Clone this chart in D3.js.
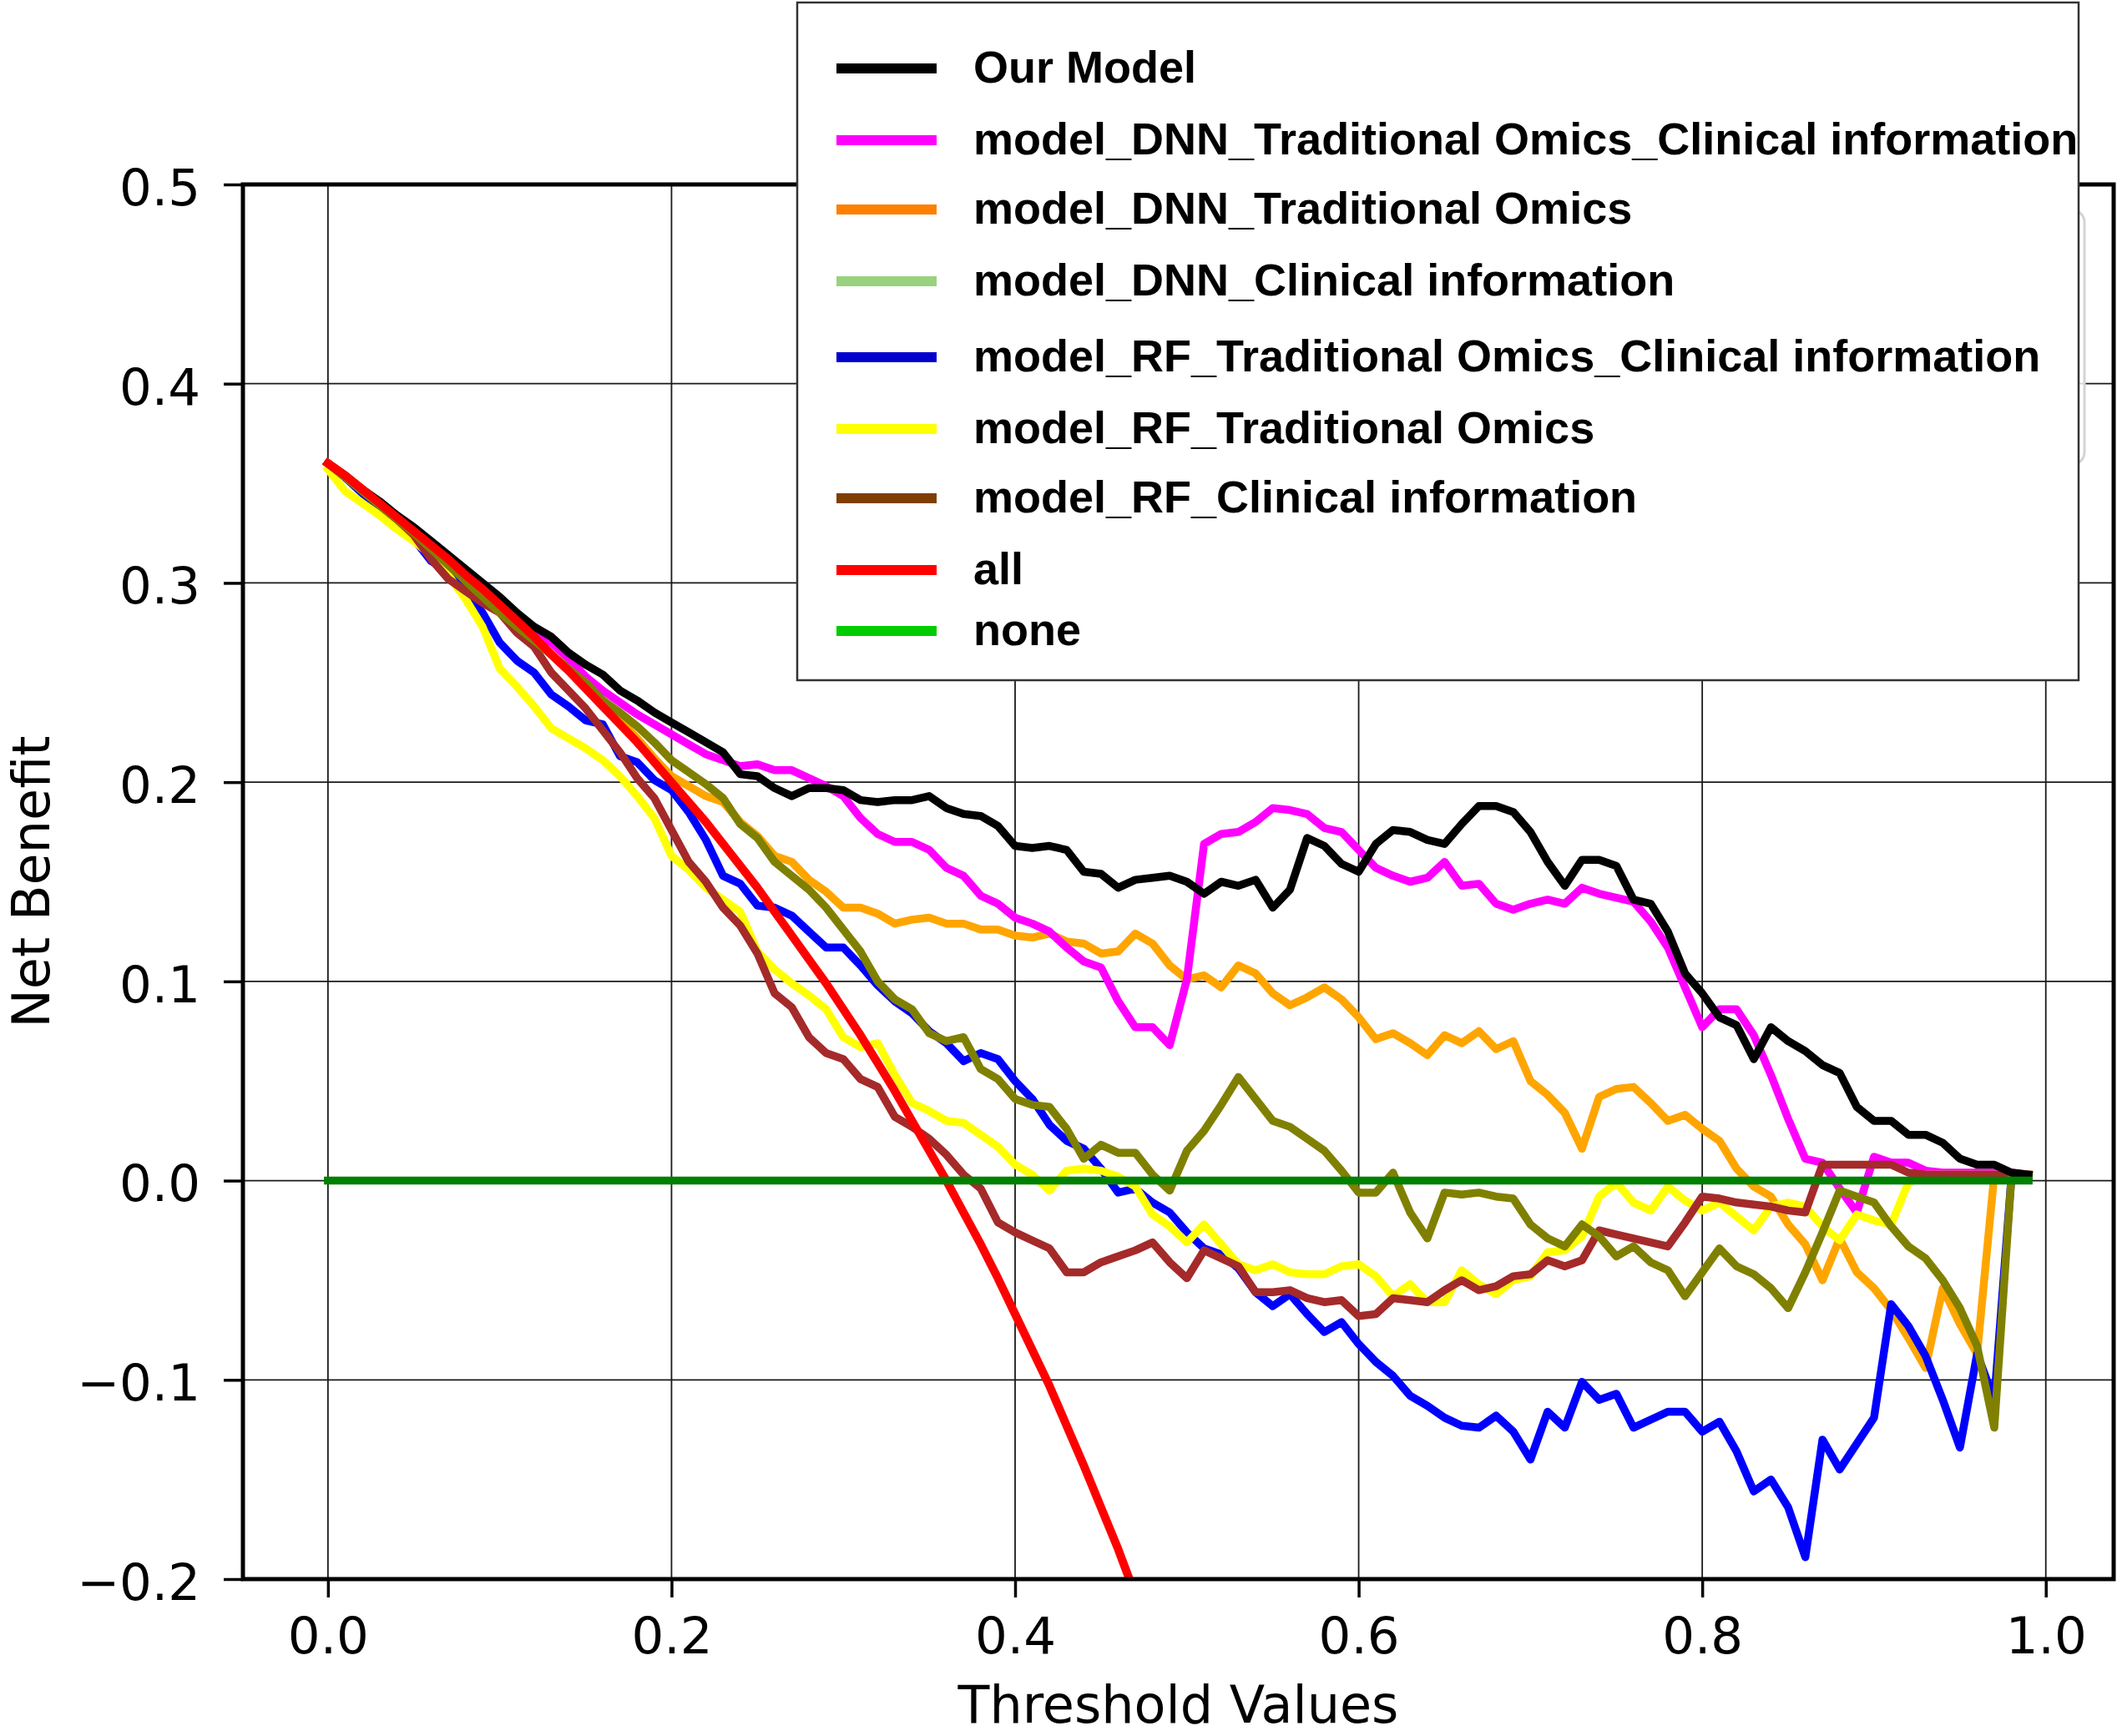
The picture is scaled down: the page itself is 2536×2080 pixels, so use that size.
<!DOCTYPE html>
<html><head><meta charset="utf-8">
<script src="https://cdn.jsdelivr.net/npm/d3@7"></script>
<style>html,body{margin:0;padding:0;background:#fff;} svg{display:block}</style>
</head><body>
<svg id="chart" width="2536" height="2080"></svg>
<script>
// ---------------- DATA ----------------
const thresholds = [0.00,0.01,0.02,0.03,0.04,0.05,0.06,0.07,0.08,0.09,
 0.10,0.11,0.12,0.13,0.14,0.15,0.16,0.17,0.18,0.19,
 0.20,0.21,0.22,0.23,0.24,0.25,0.26,0.27,0.28,0.29,
 0.30,0.31,0.32,0.33,0.34,0.35,0.36,0.37,0.38,0.39,
 0.40,0.41,0.42,0.43,0.44,0.45,0.46,0.47,0.48,0.49,
 0.50,0.51,0.52,0.53,0.54,0.55,0.56,0.57,0.58,0.59,
 0.60,0.61,0.62,0.63,0.64,0.65,0.66,0.67,0.68,0.69,
 0.70,0.71,0.72,0.73,0.74,0.75,0.76,0.77,0.78,0.79,
 0.80,0.81,0.82,0.83,0.84,0.85,0.86,0.87,0.88,0.89,
 0.90,0.91,0.92,0.93,0.94,0.95,0.96,0.97,0.98,0.99];

const ourModel = [0.360,0.354,0.347,0.341,0.334,0.328,0.321,0.314,0.307,0.300,
 0.293,0.285,0.278,0.273,0.265,0.259,0.254,0.246,0.241,0.235,
 0.230,0.225,0.220,0.215,0.204,0.203,0.197,0.193,0.197,0.197,
 0.196,0.191,0.190,0.191,0.191,0.193,0.187,0.184,0.183,0.178,
 0.168,0.167,0.168,0.166,0.155,0.154,0.147,0.151,0.152,0.153,
 0.150,0.144,0.150,0.148,0.151,0.137,0.146,0.172,0.168,0.159,
 0.155,0.169,0.176,0.175,0.171,0.169,0.179,0.188,0.188,0.185,
 0.175,0.160,0.148,0.161,0.161,0.158,0.141,0.139,0.125,0.104,
 0.094,0.082,0.078,0.061,0.077,0.070,0.065,0.058,0.054,0.037,
 0.030,0.030,0.023,0.023,0.019,0.011,0.008,0.008,0.004,0.003];

const dnnTOCI = [0.360,0.353,0.347,0.340,0.333,0.326,0.319,0.312,0.305,0.298,
 0.291,0.283,0.276,0.270,0.262,0.253,0.246,0.240,0.234,0.229,
 0.224,0.219,0.214,0.211,0.208,0.209,0.206,0.206,0.202,0.198,
 0.193,0.182,0.174,0.170,0.170,0.166,0.157,0.153,0.143,0.139,
 0.132,0.129,0.125,0.117,0.110,0.107,0.090,0.077,0.077,0.068,
 0.101,0.169,0.174,0.175,0.180,0.187,0.186,0.184,0.177,0.175,
 0.166,0.157,0.153,0.150,0.152,0.160,0.148,0.149,0.139,0.136,
 0.139,0.141,0.139,0.147,0.144,0.142,0.140,0.130,0.117,0.097,
 0.077,0.086,0.086,0.073,0.053,0.031,0.011,0.009,-0.004,-0.016,
 0.012,0.009,0.009,0.005,0.004,0.004,0.004,0.004,0.004,0.003];

const dnnTO = [0.360,0.353,0.347,0.340,0.333,0.326,0.319,0.312,0.305,0.297,
 0.289,0.281,0.273,0.265,0.257,0.249,0.240,0.231,0.222,0.212,
 0.203,0.198,0.193,0.190,0.180,0.173,0.163,0.160,0.151,0.145,
 0.137,0.137,0.134,0.129,0.131,0.132,0.129,0.129,0.126,0.126,
 0.123,0.122,0.124,0.120,0.119,0.114,0.115,0.124,0.119,0.108,
 0.101,0.103,0.097,0.108,0.104,0.094,0.088,0.092,0.097,0.091,
 0.082,0.071,0.074,0.069,0.063,0.073,0.069,0.075,0.066,0.070,
 0.050,0.043,0.034,0.016,0.042,0.046,0.047,0.039,0.030,0.033,
 0.026,0.020,0.006,-0.003,-0.008,-0.022,-0.032,-0.050,-0.029,-0.046,
 -0.054,-0.065,-0.079,-0.094,-0.054,-0.072,-0.087,0.003,0.003,0.003];

const dnnCI = [0.360,0.353,0.346,0.339,0.332,0.325,0.317,0.309,0.301,0.293,
 0.285,0.278,0.271,0.264,0.257,0.250,0.241,0.235,0.228,0.220,
 0.211,0.205,0.199,0.192,0.179,0.172,0.160,0.153,0.146,0.137,
 0.126,0.115,0.100,0.091,0.086,0.074,0.070,0.072,0.056,0.051,
 0.041,0.038,0.037,0.026,0.011,0.018,0.014,0.014,0.003,-0.005,
 0.015,0.025,0.038,0.052,0.041,0.030,0.027,0.021,0.015,0.005,
 -0.006,-0.006,0.004,-0.016,-0.029,-0.006,-0.007,-0.006,-0.008,-0.009,
 -0.022,-0.029,-0.033,-0.022,-0.028,-0.038,-0.033,-0.041,-0.045,-0.058,
 -0.046,-0.034,-0.043,-0.047,-0.054,-0.064,-0.046,-0.026,-0.005,-0.008,
 -0.011,-0.023,-0.033,-0.039,-0.050,-0.064,-0.083,-0.124,0.002,0.002];

const rfTOCI = [0.360,0.353,0.345,0.338,0.331,0.322,0.311,0.306,0.296,0.285,
 0.270,0.261,0.255,0.244,0.238,0.231,0.229,0.213,0.210,0.201,
 0.196,0.185,0.171,0.153,0.149,0.138,0.137,0.133,0.125,0.117,
 0.117,0.108,0.098,0.090,0.084,0.075,0.069,0.060,0.064,0.061,
 0.050,0.041,0.028,0.020,0.016,0.006,-0.006,-0.004,-0.011,-0.016,
 -0.026,-0.034,-0.037,-0.044,-0.056,-0.063,-0.057,-0.067,-0.076,-0.071,
 -0.082,-0.091,-0.098,-0.108,-0.113,-0.119,-0.123,-0.124,-0.118,-0.126,
 -0.140,-0.116,-0.124,-0.101,-0.110,-0.107,-0.124,-0.120,-0.116,-0.116,
 -0.126,-0.121,-0.136,-0.156,-0.150,-0.164,-0.189,-0.130,-0.145,-0.132,
 -0.119,-0.062,-0.073,-0.088,-0.110,-0.134,-0.087,-0.110,0.002,0.002];

const rfTO = [0.357,0.346,0.340,0.334,0.327,0.321,0.314,0.304,0.292,0.278,
 0.257,0.248,0.238,0.227,0.222,0.217,0.211,0.203,0.193,0.182,
 0.163,0.156,0.147,0.141,0.135,0.115,0.106,0.099,0.093,0.086,
 0.072,0.067,0.069,0.053,0.039,0.035,0.030,0.029,0.023,0.017,
 0.008,0.003,-0.005,0.005,0.006,0.005,0.002,-0.003,-0.017,-0.023,
 -0.031,-0.022,-0.032,-0.042,-0.045,-0.042,-0.046,-0.047,-0.047,-0.043,
 -0.042,-0.048,-0.058,-0.052,-0.061,-0.061,-0.045,-0.052,-0.057,-0.050,
 -0.048,-0.036,-0.035,-0.028,-0.008,-0.001,-0.011,-0.015,-0.003,-0.010,
 -0.015,-0.011,-0.018,-0.025,-0.013,-0.011,-0.013,-0.023,-0.030,-0.017,
 -0.020,-0.022,-0.001,0.003,0.003,0.003,0.003,0.003,0.003,0.003];

const rfCI = [0.360,0.353,0.346,0.339,0.332,0.324,0.312,0.302,0.296,0.290,
 0.285,0.275,0.268,0.255,0.246,0.237,0.226,0.215,0.202,0.192,
 0.176,0.160,0.150,0.137,0.128,0.114,0.094,0.087,0.072,0.064,
 0.061,0.051,0.047,0.032,0.027,0.021,0.013,0.003,-0.004,-0.021,
 -0.026,-0.030,-0.034,-0.046,-0.046,-0.041,-0.038,-0.035,-0.031,-0.041,
 -0.049,-0.035,-0.039,-0.043,-0.056,-0.056,-0.055,-0.059,-0.061,-0.060,
 -0.068,-0.067,-0.059,-0.060,-0.061,-0.055,-0.050,-0.055,-0.053,-0.048,
 -0.047,-0.040,-0.043,-0.040,-0.025,-0.027,-0.029,-0.031,-0.033,-0.021,
 -0.008,-0.009,-0.011,-0.012,-0.013,-0.015,-0.016,0.008,0.008,0.008,
 0.008,0.008,0.004,0.003,0.003,0.003,0.003,0.003,0.003,0.003];

// "treat all" curve (continues below the axis; only the visible part is listed)
const treatAll = [0.360,0.354,0.347,0.340,0.333,0.326,0.319,0.312,0.304,0.297,
 0.289,0.281,0.273,0.264,0.256,0.247,0.238,0.229,0.220,0.210,
 0.200,0.190,0.180,0.169,0.158,0.147,0.135,0.123,0.111,0.099,
 0.086,0.073,0.059,0.045,0.030,0.015,0.000,-0.016,-0.032,-0.049,
 -0.067,-0.085,-0.103,-0.123,-0.143,-0.164,-0.185,-0.208,-0.231];

const treatNone = [0,0,0,0,0,0,0,0,0,0, 0,0,0,0,0,0,0,0,0,0,
 0,0,0,0,0,0,0,0,0,0, 0,0,0,0,0,0,0,0,0,0,
 0,0,0,0,0,0,0,0,0,0, 0,0,0,0,0,0,0,0,0,0,
 0,0,0,0,0,0,0,0,0,0, 0,0,0,0,0,0,0,0,0,0,
 0,0,0,0,0,0,0,0,0,0, 0,0,0,0,0,0,0,0,0,0];

const xTicks = [0.0, 0.2, 0.4, 0.6, 0.8, 1.0];
const yTicks = [-0.2, -0.1, 0.0, 0.1, 0.2, 0.3, 0.4, 0.5];

const legendLabels = ["Our Model","model_DNN_Traditional Omics_Clinical information",
 "model_DNN_Traditional Omics","model_DNN_Clinical information",
 "model_RF_Traditional Omics_Clinical information","model_RF_Traditional Omics",
 "model_RF_Clinical information","all","none"];
const legendColors = ["#000000","#ff00ff","#ff7f00","#99d27f","#0000cc","#ffff00","#7f3f00","#ff0000","#00cc00"];

// ---------------- LAYOUT ----------------
const L = 291, R = 2532, T = 221, B = 1892;
const x = d3.scaleLinear().domain([-0.0495, 1.0395]).range([L, R]);
const y = d3.scaleLinear().domain([-0.2, 0.5]).range([B, T]);
const svg = d3.select('#chart');
const FONT = "'DejaVu Sans', sans-serif";

svg.append('rect').attr('width',2536).attr('height',2080).attr('fill','#fff');
svg.append('defs').append('clipPath').attr('id','plotClip')
  .append('rect').attr('x',L).attr('y',T).attr('width',R-L).attr('height',B-T);

// grid
const grid = svg.append('g').attr('stroke','#1a1a1a').attr('stroke-width',1.8);
grid.selectAll('.gx').data(xTicks).join('line')
  .attr('x1',d=>x(d)).attr('x2',d=>x(d)).attr('y1',T).attr('y2',B);
grid.selectAll('.gy').data(yTicks).join('line')
  .attr('y1',d=>y(d)).attr('y2',d=>y(d)).attr('x1',L).attr('x2',R);

// series (draw order chosen to match overlaps)
const series = [
  {values: dnnTO,    color:'#ffa500', w:9.5},
  {values: dnnTOCI,  color:'#ff00ff', w:9.5},
  {values: rfTOCI,   color:'#0000ff', w:9.5},
  {values: rfTO,     color:'#ffff00', w:9.5},
  {values: rfCI,     color:'#a52a2a', w:9.5},
  {values: dnnCI,    color:'#808000', w:9.5},
  {values: ourModel, color:'#000000', w:9.5},
  {values: treatAll, color:'#ff0000', w:10},
  {values: treatNone,color:'#008000', w:9.5}
];
const line = d3.line().x(d=>x(d[0])).y(d=>y(d[1]));
const plot = svg.append('g').attr('clip-path','url(#plotClip)');
series.forEach(s=>{
  const pts = s.values.map((v,i)=>[thresholds[i], v]);
  plot.append('path').attr('d', line(pts)).attr('fill','none')
    .attr('stroke', s.color).attr('stroke-width', s.w)
    .attr('stroke-linejoin','round').attr('stroke-linecap','square');
});

// spines
svg.append('rect').attr('x',L).attr('y',T).attr('width',R-L).attr('height',B-T)
  .attr('fill','none').attr('stroke','#000').attr('stroke-width',5);

// axes
const fmt = d3.format('.1f');
const xAxis = d3.axisBottom(x).tickValues(xTicks).tickFormat(fmt).tickSize(22).tickPadding(24);
svg.append('g').attr('transform',`translate(0,${B})`).call(xAxis)
  .attr('font-family',FONT).attr('font-size',61)
  .call(g=>g.select('.domain').remove())
  .call(g=>g.selectAll('line').attr('stroke','#000').attr('stroke-width',3.5))
  .call(g=>g.selectAll('text').attr('fill','#000'));
const yAxis = d3.axisLeft(y).tickValues(yTicks).tickFormat(fmt).tickSize(23).tickPadding(28);
svg.append('g').attr('transform',`translate(${L},0)`).call(yAxis)
  .attr('font-family',FONT).attr('font-size',61)
  .call(g=>g.select('.domain').remove())
  .call(g=>g.selectAll('line').attr('stroke','#000').attr('stroke-width',3.5))
  .call(g=>g.selectAll('text').attr('fill','#000').attr('dy','0.4em'));

// axis titles
svg.append('text').attr('x',(L+R)/2).attr('y',2064).attr('text-anchor','middle')
  .attr('font-family',FONT).attr('font-size',62).attr('fill','#000').text('Threshold Values');
svg.append('text').attr('transform',`translate(59,${(T+B)/2}) rotate(-90)`).attr('text-anchor','middle')
  .attr('font-family',FONT).attr('font-size',62).attr('fill','#000').text('Net Benefit');

// faint default legend frame hidden behind the custom legend
svg.append('rect').attr('x',1700).attr('y',252).attr('width',797).attr('height',304).attr('rx',14)
  .attr('fill','#fff').attr('fill-opacity',0.8).attr('stroke','#d4d4d4').attr('stroke-width',3);

// legend
const legendRowY = [82,168,251,337,428,514,597,683,756];
const lg = svg.append('g');
lg.append('rect').attr('x',955).attr('y',3).attr('width',1535).attr('height',812)
  .attr('fill','#fff').attr('stroke','#333').attr('stroke-width',2.5);
legendLabels.forEach((lab,i)=>{
  lg.append('line').attr('x1',1002).attr('x2',1122).attr('y1',legendRowY[i]).attr('y2',legendRowY[i])
    .attr('stroke',legendColors[i]).attr('stroke-width',12);
  lg.append('text').attr('x',1166).attr('y',legendRowY[i]+17)
    .attr('font-family',"'Liberation Sans', Arial, sans-serif").attr('font-weight','bold')
    .attr('font-size',54).attr('fill','#000').text(lab);
});
</script>
</body></html>
